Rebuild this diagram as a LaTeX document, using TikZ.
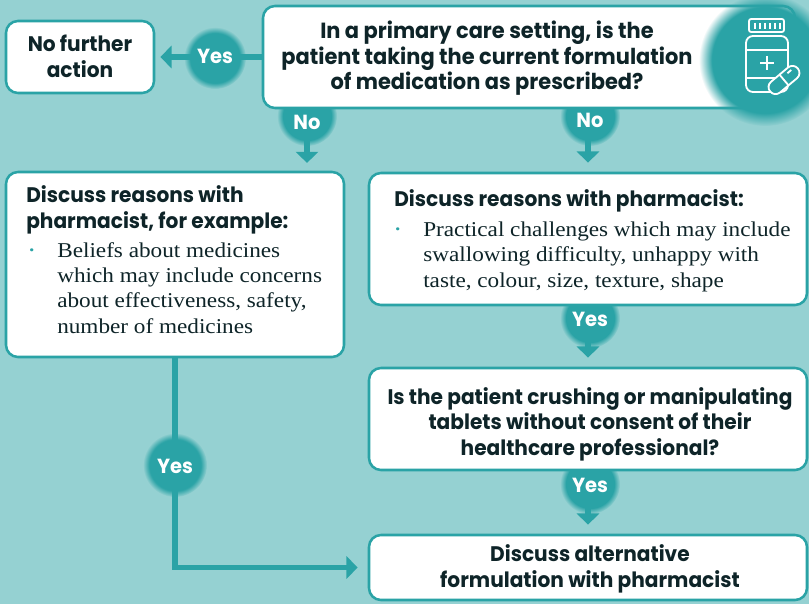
\documentclass[tikz,border=0pt]{standalone}
\usepackage{fontspec}
\setmainfont{Liberation Serif}[FakeStretch=1.1]
\newfontfamily\popp{Poppins}[FakeStretch=0.955]
\usetikzlibrary{arrows.meta, positioning, fit, fadings, calc}
\definecolor{bgteal}{RGB}{149,209,210}
\definecolor{darkteal}{RGB}{42,163,166}
\definecolor{inkgreen}{RGB}{14,36,40}
\newcommand{\bul}{\llap{\makebox[0.75cm][l]{\hspace{0.05cm}\textcolor{darkteal}{\fontsize{9}{9}\selectfont\raisebox{0.25em}{\textbullet}}}}}

\begin{document}
\begin{tikzpicture}[x=0.025cm, y=-0.025cm,
    box/.style={draw=darkteal, line width=1.8pt, fill=white, rounded corners=8.5pt, inner sep=0pt},
    head/.style={font=\popp\bfseries\fontsize{15}{17.8}\selectfont, text=inkgreen, inner sep=0pt},
    body/.style={font=\fontsize{15}{17.8}\selectfont, text=inkgreen, inner sep=0pt, align=left},
    answer/.style={font=\popp\bfseries\fontsize{14.5}{16}\selectfont, text=white, inner sep=0pt},
    conn/.style={draw=darkteal, line width=4.25pt, -{Triangle[width=15.6pt, length=8pt]}},
    blob/.style={fill=darkteal, path fading=circle with fuzzy edge 20 percent}]

    \fill[bgteal] (0,0) rectangle (809,604);
    \useasboundingbox (0,0) rectangle (809,604);

    % Blobs behind the boxes
    \fill[blob] (307,116) circle (30);
    \fill[blob] (590,116) circle (30);
    \fill[blob] (590,318) circle (30);
    \fill[blob] (590,484) circle (30);

    % Boxes
    \node[box, fit={(263,6) (795,108)}] (q1) {};
    \node[box, fit={(6,21) (154,93)}] (nfa) {};
    \node[box, fit={(6,172) (344,357)}] (lbox) {};
    \node[box, fit={(369,173) (807,305)}] (r1) {};
    \node[box, fit={(369,368) (807,470)}] (r2) {};
    \node[box, fit={(369,535) (807,600)}] (fin) {};

    % Texts (base = last line)
    \node[head, font=\popp\bfseries\fontsize{15.6}{18.2}\selectfont, align=center, anchor=base] (q1t) at (487,90) {In a primary care setting, is the\\ patient taking the current formulation\\ of medication as prescribed?};
    \node[head, align=center, anchor=base] (nfat) at (80,77) {No further\\ action};
    \node[head, align=left, anchor=base west] (lhead) at (26,228) {Discuss reasons with\\ pharmacist, for example:};
    \node[body, anchor=base west] (lbody) at (57,333) {\bul Beliefs about medicines\\ which may include concerns\\ about effectiveness, safety,\\ number of medicines};
    \node[head, anchor=base west] (rhead) at (394,206) {Discuss reasons with pharmacist:};
    \node[body, anchor=base west] (rbody) at (423,287) {\bul Practical challenges which may include\\ swallowing difficulty, unhappy with\\ taste, colour, size, texture, shape};
    \node[head, align=center, anchor=base] (r2t) at (590,455) {Is the patient crushing or manipulating\\ tablets without consent of their\\ healthcare professional?};
    \node[head, align=center, anchor=base] (fint) at (590,587) {Discuss alternative\\ formulation with pharmacist};

    % Connectors
    \coordinate (tipL) at (307,163);
    \draw[conn, shorten >=0.125cm] (q1.west) -- (nfa.east);
    \draw[conn] (q1.south -| tipL) -- (tipL);
    \draw[conn, shorten >=0.225cm] (q1.south -| r1.north) -- (r1.north);
    \draw[conn, shorten >=0.225cm] (r1.south) -- (r2.north);
    \draw[conn, shorten >=0.225cm] (r2.south) -- (fin.north);
    \draw[conn, shorten >=0.25cm] (lbox.south) |- (fin.west);

    % Blobs on the connectors
    \fill[blob] (215,58) circle (31);
    \fill[blob] (175,465) circle (32);

    % Answers
    \node[answer, anchor=base] (yesA) at (215,64) {Yes};
    \node[answer, anchor=base] (noL) at (307,129) {No};
    \node[answer, anchor=base] (noR) at (590,128) {No};
    \node[answer, anchor=base] (yesB) at (590,326) {Yes};
    \node[answer, anchor=base] (yesC) at (590,492) {Yes};
    \node[answer, anchor=base] (yesD) at (175,473) {Yes};

    % Medicine icon
    \fill[blob] (765,60) circle (66);
    \begin{scope}[white, line width=1.3pt]
        \draw[rounded corners=1.5pt] (749,19) rectangle (784,32);
        \foreach \xx in {755,760,...,780}
            \draw[line width=1.1pt] (\xx,23) -- (\xx,29);
        \draw[rounded corners=5pt] (746,36) rectangle (788,92);
        \draw (746,50) -- (788,50);
        \draw (746,78) -- (788,78);
        \draw (767,56) -- (767,70);
        \draw (760,63) -- (774,63);
    \end{scope}
    \begin{scope}[shift={(784,80)}, rotate=40, white, line width=1.3pt]
        \draw[fill=darkteal, rounded corners=4.9pt] (-18,-7) rectangle (18,7);
        \draw (0,-7) -- (0,7);
        \draw (7,-3) -- (12,-3);
    \end{scope}
\end{tikzpicture}
\end{document}
